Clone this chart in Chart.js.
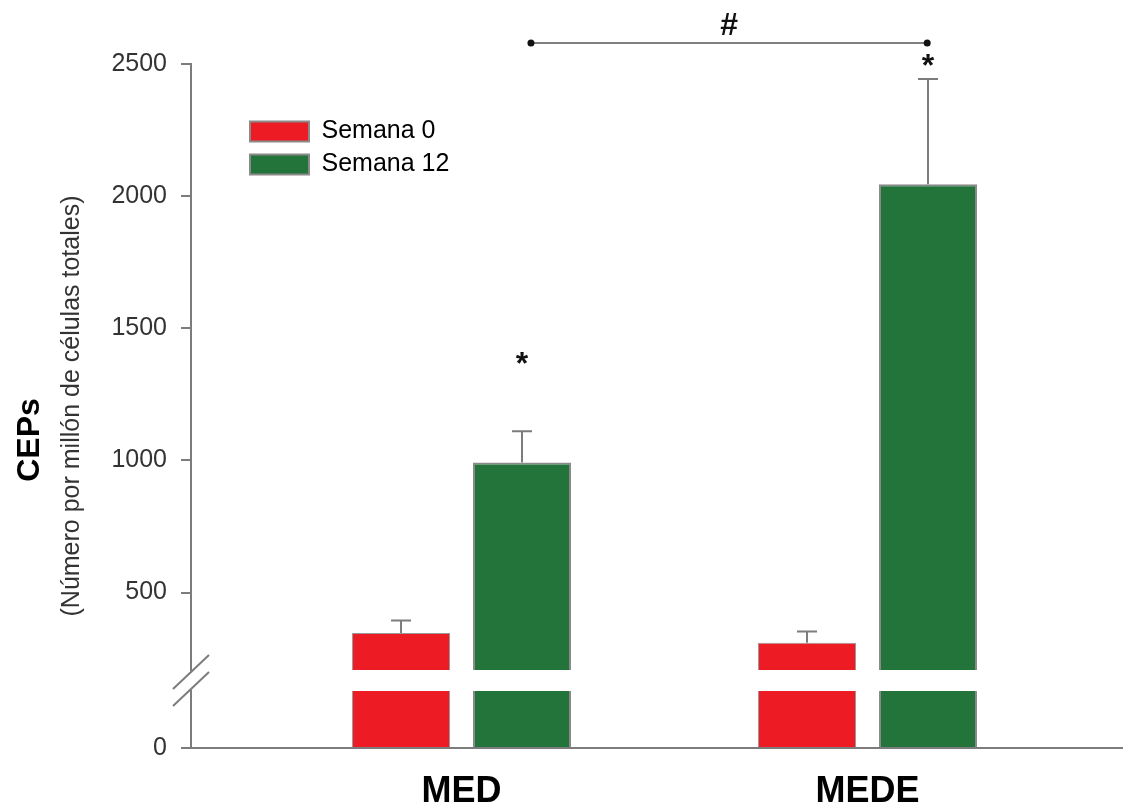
<!DOCTYPE html>
<html>
<head>
<meta charset="utf-8">
<script src="https://cdn.jsdelivr.net/npm/chart.js@4.4.0/dist/chart.umd.min.js"></script>
<style>
  html, body { margin: 0; padding: 0; background: #fff; }
</style>
</head>
<body>
<canvas id="bars" width="1123" height="807"></canvas>
<script>
const categories = ['MED', 'MEDE'];
const seriesNames = ['Semana 0', 'Semana 12'];
const semana0 = [347, 310];
const semana0Err = [47, 43];
const semana12 = [992, 2045];
const semana12Err = [118, 398];
const upperTicks = [500, 1000, 1500, 2000, 2500];
const lowerTicks = [0];
const yTitle = 'CEPs';
const ySubtitle = '(Número por millón de células totales)';

// significance marks, in data units
const starLevels = [1360, 2489];
const bracket = { from: 0.171, to: 1.147, level: 2579, labelLevel: 2644, text: '#' };

const RED = '#ed1c24';
const GREEN = '#23743a';
const GREY = '#7c7c7c';
const FONT = '"Liberation Sans", Arial, sans-serif';

// axis break: upper part starts at ~207, lower part goes 0..200
const upperMin = 207;
const lowerMax = 200;

const toPoints = vals => vals.map((v, i) => ({ x: i, y: v }));
const clampLow = vals => vals.map((v, i) => ({ x: i, y: Math.min(v, lowerMax) }));

const errorBars = {
  id: 'errorBars',
  afterDatasetsDraw(chart) {
    const ctx = chart.ctx
    const yScale = chart.scales.y
    const sets = [[semana0, semana0Err], [semana12, semana12Err]]
    sets.forEach(([vals, errs], di) => {
      chart.getDatasetMeta(di).data.forEach((bar, i) => {
        const top = yScale.getPixelForValue(vals[i] + errs[i])
        ctx.save()
        ctx.strokeStyle = GREY
        ctx.lineWidth = 2
        ctx.beginPath()
        ctx.moveTo(bar.x, bar.y)
        ctx.lineTo(bar.x, top)
        ctx.moveTo(bar.x - 10, top)
        ctx.lineTo(bar.x + 10, top)
        ctx.stroke()
        ctx.restore()
      })
    })
  }
};

const axisBreak = {
  id: 'axisBreak',
  afterDraw(chart) {
    const gap = chart.scales.gap
    const ctx = chart.ctx
    const x = chart.chartArea.left
    ctx.save()
    ctx.strokeStyle = GREY
    ctx.lineWidth = 2
    ;[gap.top + 2, gap.bottom - 2].forEach(cy => {
      ctx.beginPath()
      ctx.moveTo(x - 18, cy + 17)
      ctx.lineTo(x + 18, cy - 17)
      ctx.stroke()
    })
    ctx.restore()
  }
};

const sigMarks = {
  id: 'sigMarks',
  afterDraw(chart) {
    const ctx = chart.ctx
    const xs = chart.scales.x, ys = chart.scales.y
    const greens = chart.getDatasetMeta(1).data
    ctx.save()
    ctx.fillStyle = '#111'
    ctx.textAlign = 'center'
    ctx.textBaseline = 'middle'
    ctx.font = 'bold 32px ' + FONT
    starLevels.forEach((v, i) => ctx.fillText('*', greens[i].x, ys.getPixelForValue(v)))

    const x1 = xs.getPixelForValue(bracket.from)
    const x2 = xs.getPixelForValue(bracket.to)
    const by = ys.getPixelForValue(bracket.level)
    ctx.strokeStyle = '#555'
    ctx.lineWidth = 1.5
    ctx.beginPath()
    ctx.moveTo(x1, by)
    ctx.lineTo(x2, by)
    ctx.stroke()
    ;[x1, x2].forEach(px => {
      ctx.beginPath()
      ctx.arc(px, by, 3.5, 0, Math.PI * 2)
      ctx.fill()
    })
    ctx.font = 'bold 32px ' + FONT
    ctx.fillText(bracket.text, (x1 + x2) / 2, ys.getPixelForValue(bracket.labelLevel))
    ctx.restore()
  }
};

const yTitles = {
  id: 'yTitles',
  afterDraw(chart) {
    const { ctx, chartArea } = chart
    const mid = (chartArea.top + chartArea.bottom) / 2
    ctx.save()
    ctx.textAlign = 'center'
    ctx.textBaseline = 'middle'
    ctx.translate(30, mid + 34)
    ctx.rotate(-Math.PI / 2)
    ctx.font = 'bold 32px ' + FONT
    ctx.fillStyle = '#000'
    ctx.fillText(yTitle, 0, 0)
    ctx.restore()

    ctx.save()
    ctx.textAlign = 'center'
    ctx.textBaseline = 'middle'
    ctx.translate(72, mid)
    ctx.rotate(-Math.PI / 2)
    ctx.font = '25px ' + FONT
    ctx.fillStyle = '#333'
    ctx.fillText(ySubtitle, 0, 0)
    ctx.restore()
  }
};

// move the legend inside the plot, near the top left
const legendPlace = {
  id: 'legendPlace',
  afterLayout(chart) {
    const lg = chart.legend
    const ca = chart.chartArea
    const w = lg.width, h = lg.height
    lg.left = ca.left + 51
    lg.top = ca.top + 47
    lg.right = lg.left + w
    lg.bottom = lg.top + h
  }
};

const yAxisBase = {
  type: 'linear',
  position: 'left',
  stack: 'v',
  stacked: false,
  border: { color: GREY, width: 2 },
  grid: { drawOnChartArea: false, tickLength: 10, color: GREY, lineWidth: 2 },
  ticks: { font: { size: 25, family: FONT }, color: '#333', padding: 14, callback: v => String(v) },
  afterFit: s => { s.width = 191 }
};

const barConfig = {
  type: 'bar',
  data: {
    datasets: [
      {
        label: seriesNames[0], data: toPoints(semana0), yAxisID: 'y', stack: 's0',
        backgroundColor: RED, borderColor: '#999', borderWidth: { top: 1, left: 1, right: 1, bottom: 0 }, borderSkipped: false
      },
      {
        label: seriesNames[1], data: toPoints(semana12), yAxisID: 'y', stack: 's1',
        backgroundColor: GREEN, borderColor: '#8a8a8a', borderWidth: { top: 2, left: 2, right: 2, bottom: 0 }, borderSkipped: false
      },
      {
        label: seriesNames[0], data: clampLow(semana0), yAxisID: 'yLow', stack: 's0',
        backgroundColor: RED, borderColor: '#999', borderWidth: { top: 0, left: 1, right: 1, bottom: 0 }, borderSkipped: false
      },
      {
        label: seriesNames[1], data: clampLow(semana12), yAxisID: 'yLow', stack: 's1',
        backgroundColor: GREEN, borderColor: '#8a8a8a', borderWidth: { top: 0, left: 2, right: 2, bottom: 0 }, borderSkipped: false
      },
    ],
  },
  options: {
    responsive: false,
    animation: false,
    categoryPercentage: 0.596,
    barPercentage: 0.81,
    layout: { padding: { top: 64, left: 0, right: 0, bottom: 0 } },
    scales: {
      x: {
        type: 'linear',
        min: -0.6663,
        max: 1.6293,
        offset: false,
        border: { color: GREY, width: 2 },
        grid: { display: false, offset: false },
        afterBuildTicks: s => { s.ticks = categories.map((c, i) => ({ value: i })) },
        ticks: {
          callback: v => categories[v],
          font: { size: 36, weight: 'bold', family: FONT },
          color: '#000',
          padding: 14,
          maxRotation: 0,
        },
        afterFit: s => { s.height = 59 },
      },
      yLow: {
        ...yAxisBase,
        min: 0,
        max: lowerMax,
        stackWeight: 57,
        afterBuildTicks: s => { s.ticks = lowerTicks.map(v => ({ value: v })) },
      },
      gap: {
        type: 'linear',
        position: 'left',
        stack: 'v',
        stackWeight: 21,
        min: 0,
        max: 1,
        border: { display: false },
        grid: { display: false },
        ticks: { display: false },
        afterFit: s => { s.width = 191 },
      },
      y: {
        ...yAxisBase,
        min: upperMin,
        max: 2500,
        stackWeight: 606,
        afterBuildTicks: s => { s.ticks = upperTicks.map(v => ({ value: v })) },
      },
    },
    plugins: {
      tooltip: { enabled: false },
      legend: {
        position: 'chartArea',
        align: 'start',
        labels: {
          boxWidth: 59,
          boxHeight: 20,
          padding: 8,
          color: '#333',
          font: { size: 25, family: FONT },
          generateLabels: () => seriesNames.map((name, i) => ({
            text: name,
            fillStyle: i ? GREEN : RED,
            strokeStyle: '#8a8a8a',
            lineWidth: 2,
            hidden: false,
            datasetIndex: i,
          })),
        },
      },
    },
  },
  plugins: [legendPlace, errorBars, axisBreak, sigMarks, yTitles],
}

const barsCtx = document.getElementById('bars')
window.myBar = new Chart(barsCtx, barConfig)
</script>
</body>
</html>
